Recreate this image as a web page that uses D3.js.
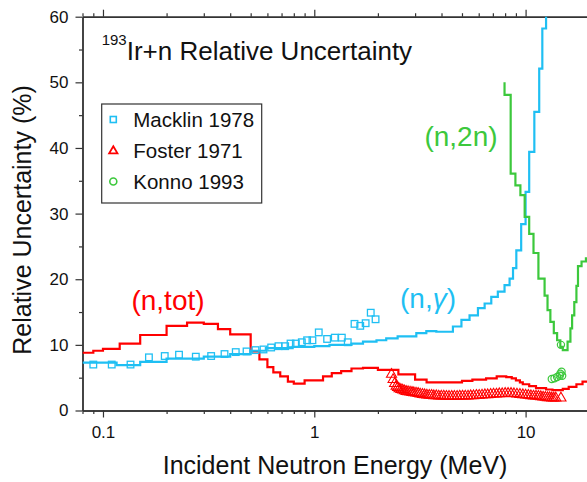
<!DOCTYPE html>
<html>
<head>
<meta charset="utf-8">
<script src="https://cdn.jsdelivr.net/npm/d3@7"></script>
<style>
    body { margin: 0; background: #fff; }
    svg { display: block; font-family: 'Liberation Sans', Arial, sans-serif; }
</style>
</head>
<body>
<div id="chart"></div>
<script>
// 193Ir+n relative uncertainties (%), energies in MeV
const ntotE = [0.08, 0.09, 0.10, 0.12, 0.15, 0.20, 0.25, 0.30, 0.35, 0.40, 0.50, 0.55, 0.60, 0.64, 0.69,
    0.75, 0.80, 0.90, 1.10, 1.21, 1.34, 1.50, 1.70, 2.00, 2.50, 3.00, 3.40, 5.00, 5.60, 6.50,
    7.30, 8.10, 8.60, 9.00, 9.40, 9.70, 10.4, 11.2, 12.5, 13.4, 15.0, 16.0, 17.4, 18.6, 20.0];
const ntotV = [8.8, 9.1, 9.4, 10.2, 11.5, 12.9, 13.4, 13.2, 12.4, 11.6, 9.0, 7.8, 6.6, 5.8, 5.2,
    4.4, 4.1, 4.6, 5.2, 5.7, 6.0, 6.4, 6.5, 6.2, 5.5, 4.7, 4.3, 4.5, 4.7, 4.9,
    5.2, 5.1, 4.9, 4.6, 4.3, 4.0, 3.7, 3.4, 3.2, 3.1, 3.3, 3.6, 4.0, 4.4, 4.8];

const ngE = [0.08, 0.116, 0.15, 0.20, 0.30, 0.40, 0.50, 0.59, 0.79, 1.00, 1.18, 1.50, 1.70, 1.97, 2.19,
    2.48, 3.04, 3.39, 3.78, 4.53, 4.97, 5.43, 5.95, 6.40, 6.88, 7.39, 7.95, 8.40, 8.72, 9.04,
    9.53, 10.0, 10.4, 11.0, 11.6, 12.0, 12.5];
const ngV = [7.3, 6.9, 7.4, 7.9, 8.2, 8.6, 9.1, 9.5, 9.7, 9.8, 10.0, 10.2, 10.5, 10.7, 11.0,
    11.3, 11.8, 12.1, 12.0, 12.8, 13.8, 14.5, 15.6, 16.3, 17.3, 18.1, 19.1, 20.1, 21.7, 24.4,
    28.4, 33.3, 39.4, 45.5, 52.1, 58.2, 64.0];

const n2nE = [7.95, 7.95, 8.5, 8.95, 9.45, 9.9, 10.4, 10.9, 11.5, 12.3, 12.7, 13.1, 13.6, 14.1, 14.6,
    15.0, 15.8, 16.3, 16.6, 17.0, 17.4, 17.7, 18.4, 19.3, 20.0];
const n2nV = [50.0, 48.1, 36.1, 34.3, 32.8, 29.5, 26.9, 24.0, 20.1, 17.5, 15.3, 13.5, 11.8, 10.7, 9.7,
    9.2, 10.5, 12.5, 14.5, 16.5, 19.0, 22.0, 22.7, 23.2, 23.5];

const macklinE = [0.090, 0.110, 0.135, 0.165, 0.196, 0.229, 0.275, 0.325, 0.376, 0.425, 0.478, 0.527,
    0.575, 0.625, 0.677, 0.728, 0.772, 0.818, 0.873, 0.925, 0.980, 1.05, 1.15, 1.25, 1.35, 1.44,
    1.55, 1.65, 1.75, 1.85, 1.95];
const macklinV = [7.0, 7.0, 7.0, 8.1, 8.3, 8.5, 8.2, 8.3, 8.6, 8.9, 9.0, 9.2,
    9.3, 9.6, 9.8, 9.8, 10.2, 10.2, 10.4, 10.7, 10.7, 11.9, 10.9, 11.1, 11.1, 10.4,
    13.2, 12.9, 13.3, 14.9, 13.9];

const fosterE = [2.32, 2.36, 2.40, 2.44, 2.48, 2.52, 2.57, 2.62, 2.67, 2.72, 2.78, 2.84, 2.90, 2.96,
    3.03, 3.10, 3.17, 3.25, 3.33, 3.41, 3.50, 3.59, 3.68, 3.78, 3.88, 3.99, 4.10, 4.22, 4.34,
    4.47, 4.60, 4.74, 4.88, 5.03, 5.18, 5.34, 5.50, 5.67, 5.85, 6.03, 6.22, 6.42, 6.62, 6.83,
    7.05, 7.28, 7.51, 7.75, 8.00, 8.26, 8.53, 8.81, 9.10, 9.40, 9.71, 10.0, 10.3, 10.6, 10.9,
    11.2, 11.5, 11.8, 12.1, 12.4, 12.7, 13.0, 13.3, 13.6, 13.9, 14.7];
const fosterV = [5.5, 4.7, 4.1, 3.7, 3.5, 3.3, 3.2, 3.1, 3.0, 2.9, 2.85, 2.8, 2.75, 2.7,
    2.65, 2.6, 2.5, 2.45, 2.4, 2.35, 2.3, 2.3, 2.25, 2.25, 2.2, 2.2, 2.2, 2.15, 2.15,
    2.15, 2.15, 2.15, 2.2, 2.2, 2.2, 2.2, 2.25, 2.25, 2.3, 2.3, 2.35, 2.4, 2.4, 2.45,
    2.5, 2.5, 2.55, 2.55, 2.6, 2.6, 2.6, 2.55, 2.5, 2.45, 2.4, 2.35, 2.3, 2.25, 2.2,
    2.2, 2.15, 2.1, 2.05, 2.0, 1.95, 1.95, 1.9, 1.9, 1.9, 1.9];

const konnoE = [13.3, 13.7, 14.1, 14.5, 14.6, 14.8, 14.9, 14.7];
const konnoV = [4.8, 4.9, 5.1, 5.3, 5.6, 5.9, 5.3, 10.0];

const xMajor = [0.1, 1, 10];
const xMinor = [0.08, 0.09, 0.2, 0.3, 0.4, 0.5, 0.6, 0.7, 0.8, 0.9, 2, 3, 4, 5, 6, 7, 8, 9, 20];
const yMajor = [0, 10, 20, 30, 40, 50, 60];
const yMinor = [5, 15, 25, 35, 45, 55];

const legendItems = ['Macklin 1978', 'Foster 1971', 'Konno 1993'];

const blue = '#1fbff3';
const red = '#ff0000';
const green = '#3cc83c';

const width = 587, height = 482;
const plotLeft = 82.5, plotRight = 589.2, plotTop = 16.7, plotBottom = 410.5;

const svg = d3.select('#chart')
    .append('svg')
    .attr('width', width)
    .attr('height', height);

const x = d3.scaleLog().domain([0.08, 20]).range([plotLeft, plotRight]);
const y = d3.scaleLinear().domain([0, 60]).range([plotBottom, plotTop]);

svg.append('clipPath')
    .attr('id', 'plot')
    .append('rect')
    .attr('x', plotLeft)
    .attr('y', plotTop)
    .attr('width', plotRight - plotLeft)
    .attr('height', plotBottom - plotTop);

// Axes
function styleAxis(g) {
    g.select('.domain').attr('stroke', '#333').attr('stroke-width', 1.4);
    g.selectAll('.tick line').attr('stroke', '#333').attr('stroke-width', 1.2);
    g.selectAll('.tick text').attr('font-size', '17px').attr('fill', '#111')
        .attr('font-family', "'Liberation Sans', Arial, sans-serif");
}

svg.append('g')
    .attr('transform', `translate(0,${plotBottom})`)
    .call(d3.axisBottom(x).tickValues(xMinor).tickSize(3.5).tickFormat('').tickSizeOuter(0))
    .call(styleAxis);
svg.append('g')
    .attr('transform', `translate(0,${plotBottom})`)
    .call(d3.axisBottom(x).tickValues(xMajor).tickSize(7).tickPadding(8).tickFormat(d3.format('~g')).tickSizeOuter(0))
    .call(styleAxis);

svg.append('g')
    .attr('transform', `translate(0,${plotTop})`)
    .call(d3.axisTop(x).tickValues(xMinor).tickSize(3.5).tickFormat('').tickSizeOuter(0))
    .call(styleAxis);
svg.append('g')
    .attr('transform', `translate(0,${plotTop})`)
    .call(d3.axisTop(x).tickValues(xMajor).tickSize(7).tickFormat('').tickSizeOuter(0))
    .call(styleAxis);

svg.append('g')
    .attr('transform', `translate(${plotLeft},0)`)
    .call(d3.axisLeft(y).tickValues(yMinor).tickSize(3.5).tickFormat('').tickSizeOuter(0))
    .call(styleAxis);
svg.append('g')
    .attr('transform', `translate(${plotLeft},0)`)
    .call(d3.axisLeft(y).tickValues(yMajor).tickSize(7).tickPadding(7).tickSizeOuter(0))
    .call(styleAxis);

// Axis titles
svg.append('text')
    .attr('x', 335)
    .attr('y', 474)
    .attr('text-anchor', 'middle')
    .attr('font-size', '25px')
    .attr('fill', '#111')
    .text('Incident Neutron Energy (MeV)');

svg.append('text')
    .attr('transform', 'translate(30.5,220) rotate(-90)')
    .attr('text-anchor', 'middle')
    .attr('font-size', '25px')
    .attr('fill', '#111')
    .text('Relative Uncertainty (%)');

// Step curves
const plot = svg.append('g').attr('clip-path', 'url(#plot)');

const step = d3.line()
    .x(d => x(d[0]))
    .y(d => y(d[1]))
    .curve(d3.curveStepAfter);

const curves = [
    { e: ntotE, v: ntotV, color: red },
    { e: ngE, v: ngV, color: blue },
    { e: n2nE, v: n2nV, color: green }
];

curves.forEach(c => {
    plot.append('path')
        .datum(c.e.map((e, i) => [e, c.v[i]]))
        .attr('d', step)
        .attr('fill', 'none')
        .attr('stroke', c.color)
        .attr('stroke-width', 2.2);
});

// Experimental data
plot.append('g')
    .selectAll('rect')
    .data(macklinE.map((e, i) => [e, macklinV[i]]))
    .enter()
    .append('rect')
    .attr('x', d => x(d[0]) - 3.3)
    .attr('y', d => y(d[1]) - 3.3)
    .attr('width', 6.6)
    .attr('height', 6.6)
    .attr('fill', 'none')
    .attr('stroke', blue)
    .attr('stroke-width', 1.3);

const tri = d3.symbol().type(d3.symbolTriangle).size(44);

plot.append('g')
    .selectAll('path')
    .data(fosterE.map((e, i) => [e, fosterV[i]]))
    .enter()
    .append('path')
    .attr('d', tri)
    .attr('transform', d => `translate(${x(d[0])},${y(d[1])})`)
    .attr('fill', 'none')
    .attr('stroke', red)
    .attr('stroke-width', 1.1);

plot.append('g')
    .selectAll('circle')
    .data(konnoE.map((e, i) => [e, konnoV[i]]))
    .enter()
    .append('circle')
    .attr('cx', d => x(d[0]))
    .attr('cy', d => y(d[1]))
    .attr('r', 3.6)
    .attr('fill', 'none')
    .attr('stroke', green)
    .attr('stroke-width', 1.2);

// Reaction labels
const labels = [
    { text: '(n,tot)', x: 168, y: 310, color: red },
    { text: '(n,2n)', x: 461, y: 146, color: green }
];

labels.forEach(l => {
    svg.append('text')
        .attr('x', l.x)
        .attr('y', l.y)
        .attr('text-anchor', 'middle')
        .attr('font-size', '28px')
        .attr('fill', l.color)
        .text(l.text);
});

const ngLabel = svg.append('text')
    .attr('x', 428)
    .attr('y', 308)
    .attr('text-anchor', 'middle')
    .attr('font-size', '28px')
    .attr('fill', blue);
ngLabel.append('tspan').text('(n,');
ngLabel.append('tspan').attr('font-style', 'italic').text('γ');
ngLabel.append('tspan').text(')');

// Title
const title = svg.append('text')
    .attr('x', 101.7)
    .attr('y', 60)
    .attr('fill', '#111');
title.append('tspan')
    .attr('font-size', '15px')
    .attr('dy', '-15')
    .text('193');
title.append('tspan')
    .attr('font-size', '26px')
    .attr('dy', '15')
    .text('Ir+n Relative Uncertainty');

// Legend
const legend = svg.append('g')
    .attr('transform', 'translate(101.7,104)');

legend.append('rect')
    .attr('width', 160)
    .attr('height', 99)
    .attr('fill', '#fff')
    .attr('stroke', '#333')
    .attr('stroke-width', 1.2);

const rows = legend.selectAll('.legend-item')
    .data(legendItems)
    .enter()
    .append('g')
    .attr('class', 'legend-item')
    .attr('transform', (d, i) => `translate(0,${15.5 + i * 31})`);

rows.append('text')
    .attr('x', 31.6)
    .attr('y', 7.3)
    .attr('font-size', '20.5px')
    .attr('fill', '#111')
    .text(d => d);

rows.filter((d, i) => i === 0)
    .append('rect')
    .attr('x', 8.6)
    .attr('y', -3)
    .attr('width', 6)
    .attr('height', 6)
    .attr('fill', 'none')
    .attr('stroke', blue)
    .attr('stroke-width', 1.6);

rows.filter((d, i) => i === 1)
    .append('path')
    .attr('d', d3.symbol().type(d3.symbolTriangle).size(30))
    .attr('transform', 'translate(11.6,0.5)')
    .attr('fill', 'none')
    .attr('stroke', red)
    .attr('stroke-width', 1.8);

rows.filter((d, i) => i === 2)
    .append('circle')
    .attr('cx', 11.6)
    .attr('cy', 0)
    .attr('r', 3.5)
    .attr('fill', 'none')
    .attr('stroke', green)
    .attr('stroke-width', 1.6);
</script>
</body>
</html>
